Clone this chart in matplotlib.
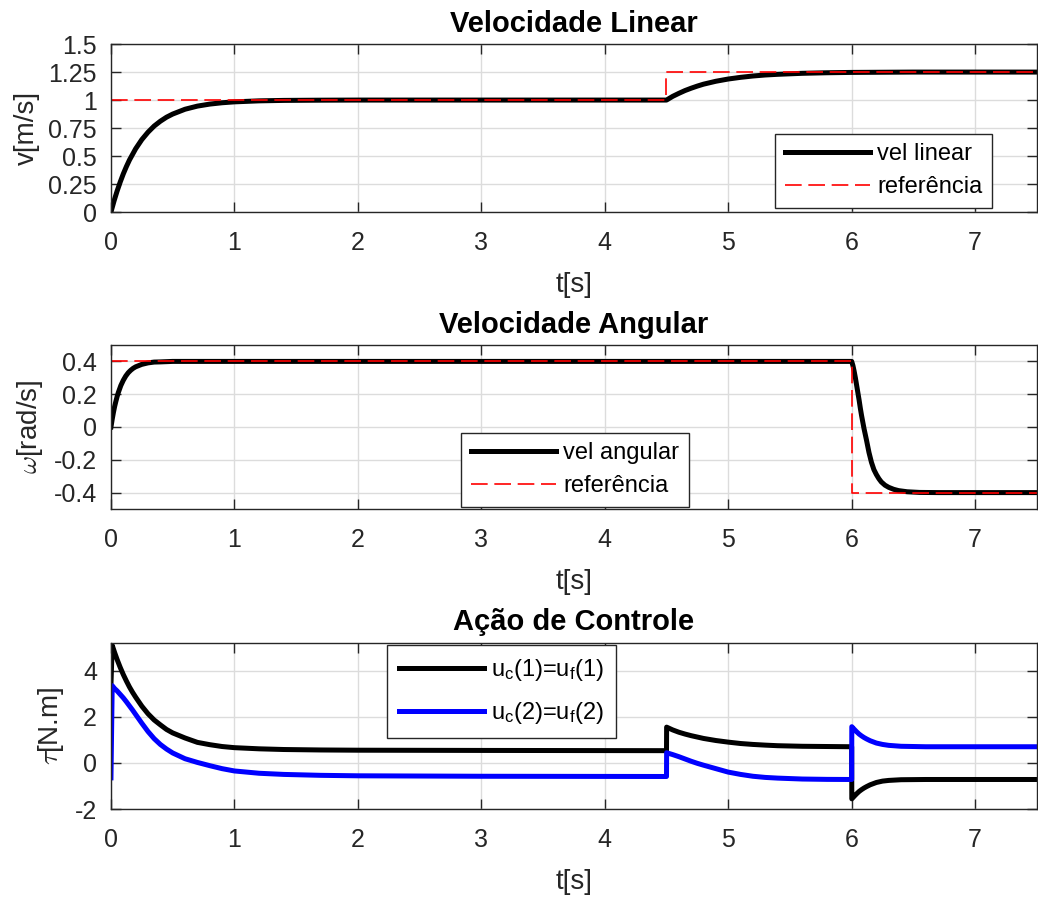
import matplotlib
matplotlib.use("Agg")
import matplotlib.pyplot as plt

plt.rcParams["font.family"] = ["Liberation Sans", "DejaVu Sans"]
plt.rcParams["axes.unicode_minus"] = False
plt.rcParams["mathtext.fontset"] = "custom"
plt.rcParams["mathtext.rm"] = "Liberation Sans"
plt.rcParams["mathtext.it"] = "Liberation Sans:italic"

# --- linear velocity ---
t_v = [0, 0.025, 0.05, 0.075, 0.1, 0.125, 0.15, 0.2, 0.25, 0.3, 0.35, 0.4, 0.45, 0.5, 0.6, 0.7,
       0.8, 0.9, 1.0, 1.2, 1.4, 1.7, 2.0,
       4.5, 4.55, 4.6, 4.65, 4.7, 4.75, 4.8, 4.9, 5.0, 5.1, 5.2, 5.3, 5.4, 5.6, 5.8, 6.0, 6.5, 7.5]
v = [0, 0.099, 0.188, 0.268, 0.341, 0.406, 0.465, 0.565, 0.647, 0.713, 0.768, 0.811, 0.847, 0.875,
     0.918, 0.946, 0.964, 0.976, 0.984, 0.993, 0.997, 0.999, 1.0,
     1.0, 1.033, 1.06, 1.085, 1.106, 1.125, 1.142, 1.168, 1.188, 1.203, 1.215, 1.224, 1.23, 1.239,
     1.244, 1.247, 1.25, 1.25]
t_vref = [0, 4.5, 4.5, 7.5]
v_ref = [1, 1, 1.25, 1.25]

# --- angular velocity ---
t_w = [0, 0.01, 0.02, 0.03, 0.04, 0.05, 0.06, 0.08, 0.1, 0.12, 0.14, 0.16, 0.18, 0.2, 0.25, 0.3,
       0.35, 0.4, 0.5, 0.7,
       6.0, 6.01, 6.02, 6.03, 6.04, 6.05, 6.06, 6.07, 6.08, 6.1, 6.12, 6.14, 6.16, 6.18, 6.2, 6.22,
       6.24, 6.27, 6.3, 6.34, 6.38, 6.45, 6.55, 6.7, 7.5]
w = [0, 0.047, 0.089, 0.126, 0.157, 0.186, 0.211, 0.253, 0.285, 0.311, 0.331, 0.346, 0.358, 0.367,
     0.382, 0.391, 0.396, 0.397, 0.4, 0.4,
     0.4, 0.375, 0.34, 0.3, 0.255, 0.21, 0.165, 0.115, 0.07, -0.01, -0.08, -0.155, -0.215, -0.26,
     -0.29, -0.315, -0.335, -0.355, -0.368, -0.38, -0.388, -0.395, -0.399, -0.4, -0.4]
t_wref = [0, 6, 6, 7.5]
w_ref = [0.4, 0.4, -0.4, -0.4]

# --- control action ---
t_u = [0, 0.01, 0.03, 0.05, 0.075, 0.1, 0.125, 0.15, 0.175, 0.2, 0.25, 0.3, 0.35, 0.4, 0.45, 0.5,
       0.6, 0.7, 0.8, 0.9, 1.0, 1.2, 1.4, 1.7, 2.0, 3.0, 4.5,
       4.501, 4.55, 4.6, 4.65, 4.7, 4.75, 4.8, 4.9, 5.0, 5.1, 5.2, 5.3, 5.4, 5.6, 5.8, 6.0,
       6.001, 6.02, 6.04, 6.06, 6.08, 6.1, 6.12, 6.15, 6.2, 6.25, 6.3, 6.4, 6.6, 7.0, 7.5]
u1 = [3.4, 5.1, 4.78, 4.48, 4.14, 3.83, 3.55, 3.29, 3.06, 2.85, 2.46, 2.13, 1.86, 1.65, 1.45, 1.3,
      1.08, 0.89, 0.79, 0.71, 0.66, 0.61, 0.58, 0.56, 0.55, 0.54, 0.53,
      1.55, 1.43, 1.33, 1.25, 1.18, 1.12, 1.06, 0.97, 0.9, 0.84, 0.8, 0.77, 0.745, 0.72, 0.71, 0.70,
      -1.56, -1.45, -1.34, -1.24, -1.16, -1.09, -1.03, -0.95, -0.85, -0.79, -0.76, -0.73, -0.72,
      -0.72, -0.72]
u2 = [-0.65, 3.35, 3.22, 3.12, 2.97, 2.82, 2.65, 2.47, 2.29, 2.1, 1.72, 1.36, 1.05, 0.8, 0.6, 0.43,
      0.18, 0.02, -0.12, -0.25, -0.35, -0.45, -0.5, -0.54, -0.56, -0.58, -0.59,
      0.44, 0.36, 0.27, 0.17, 0.07, -0.02, -0.1, -0.25, -0.4, -0.5, -0.58, -0.63, -0.66, -0.7, -0.715,
      -0.72,
      1.57, 1.46, 1.35, 1.25, 1.17, 1.1, 1.04, 0.96, 0.86, 0.8, 0.76, 0.72, 0.70, 0.70, 0.70]

xticks = [0, 1, 2, 3, 4, 5, 6, 7]
v_ticks = [0, 0.25, 0.5, 0.75, 1, 1.25, 1.5]
v_labels = ["0", "0.25", "0.5", "0.75", "1", "1.25", "1.5"]
w_ticks = [-0.4, -0.2, 0, 0.2, 0.4]
w_labels = ["-0.4", "-0.2", "0", "0.2", "0.4"]
u_ticks = [-2, 0, 2, 4]
u_labels = ["-2", "0", "2", "4"]

dark = "#262626"
fig = plt.figure(figsize=(10.38, 8.98), dpi=100)
ax1 = fig.add_axes([0.1069, 0.7639, 0.892, 0.187])
ax2 = fig.add_axes([0.1069, 0.4332, 0.892, 0.1826])
ax3 = fig.add_axes([0.1069, 0.0991, 0.892, 0.1849])


def style(ax, yt, yl, ylim):
    ax.set_xlim(0, 7.5)
    ax.set_ylim(*ylim)
    ax.set_xticks(xticks)
    ax.set_xticklabels([str(x) for x in xticks])
    ax.set_yticks(yt)
    ax.set_yticklabels(yl)
    ax.grid(True, color="#dcdcdc", linewidth=1.0)
    ax.set_axisbelow(True)
    ax.tick_params(direction="in", top=True, right=True, length=7, width=1.0,
                   colors=dark, labelsize=18)
    ax.tick_params(axis="x", pad=14)
    ax.tick_params(axis="y", pad=10)
    for s in ax.spines.values():
        s.set_color(dark)
        s.set_linewidth(1.0)
    ax.set_xlabel("t[s]", fontsize=20, color=dark, labelpad=12)


dash = (0, (10, 4))
leg_kw = dict(fontsize=17, handlelength=3.6, handletextpad=0.3, borderpad=0.42,
              labelspacing=0.45, fancybox=False, framealpha=1, edgecolor=dark, borderaxespad=0)

ax1.plot(t_v, v, color="black", lw=3.6, label="vel linear")
ax1.plot(t_vref, v_ref, color="red", lw=1.2, ls=dash, label="referência")
style(ax1, v_ticks, v_labels, (0, 1.5))
ax1.set_ylabel("v[m/s]", fontsize=20, color=dark, labelpad=6)
ax1.set_title("Velocidade Linear", fontsize=21, fontweight="bold", pad=9)
ax1.legend(loc="lower right", bbox_to_anchor=(0.952, 0.024), **leg_kw)

ax2.plot(t_w, w, color="black", lw=3.6, label="vel angular")
ax2.plot(t_wref, w_ref, color="red", lw=1.2, ls=dash, label="referência")
style(ax2, w_ticks, w_labels, (-0.5, 0.5))
ax2.set_ylabel(r"$\omega$[rad/s]", fontsize=20, color=dark, labelpad=6, math_fontfamily="cm")
ax2.set_title("Velocidade Angular", fontsize=21, fontweight="bold", pad=9)
ax2.legend(loc="lower left", bbox_to_anchor=(0.378, 0.012), **leg_kw)

ax3.plot(t_u, u1, color="black", lw=3.6, label=r"u$_{\mathrm{c}}$(1)=u$_{\mathrm{f}}$(1)")
ax3.plot(t_u, u2, color="blue", lw=3.6, label=r"u$_{\mathrm{c}}$(2)=u$_{\mathrm{f}}$(2)")
style(ax3, u_ticks, u_labels, (-2, 5.2))
ax3.set_ylabel(r"$\tau$[N.m]", fontsize=20, color=dark, labelpad=6, math_fontfamily="cm")
ax3.set_title("Ação de Controle", fontsize=21, fontweight="bold", pad=9)
leg_kw3 = dict(leg_kw, labelspacing=0.75, borderpad=0.5)
ax3.legend(loc="upper left", bbox_to_anchor=(0.298, 0.988), **leg_kw3)

fig.savefig("out.png", dpi=100)
